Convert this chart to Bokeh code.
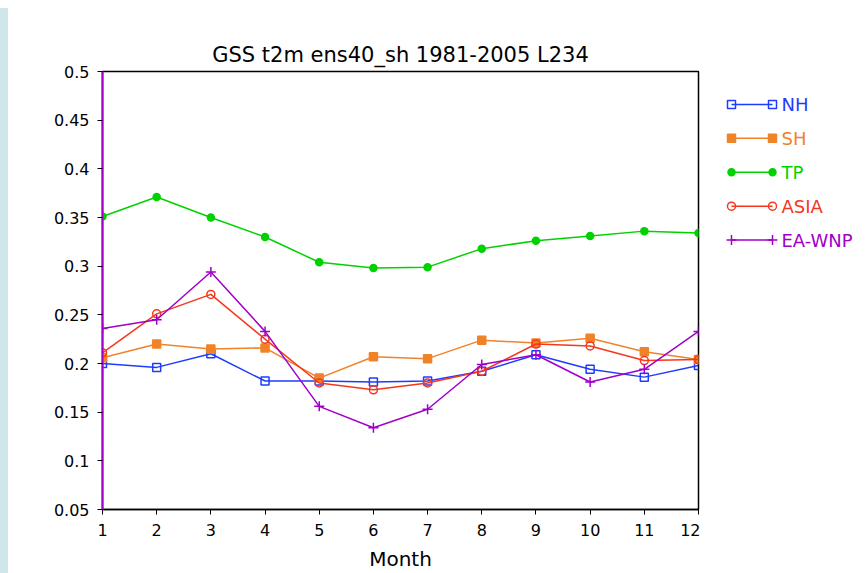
import re
from bokeh.plotting import figure
from bokeh.layouts import row
from bokeh.models import Range1d, FixedTicker, CustomJSTickFormatter, ColumnDataSource
from bokeh.core.properties import value
from bokeh.embed import file_html
from bokeh.resources import INLINE

# ---- data ----
months = [1, 2, 3, 4, 5, 6, 7, 8, 9, 10, 11, 12]
nh = [0.200, 0.196, 0.210, 0.182, 0.182, 0.181, 0.182, 0.192, 0.209, 0.194, 0.186, 0.198]
sh = [0.206, 0.220, 0.215, 0.216, 0.185, 0.207, 0.205, 0.224, 0.221, 0.226, 0.212, 0.204]
tp = [0.351, 0.371, 0.350, 0.330, 0.304, 0.298, 0.299, 0.318, 0.326, 0.331, 0.336, 0.334]
asia = [0.211, 0.251, 0.271, 0.225, 0.180, 0.173, 0.180, 0.192, 0.220, 0.218, 0.203, 0.204]
eawnp = [0.236, 0.245, 0.294, 0.233, 0.156, 0.134, 0.153, 0.199, 0.209, 0.181, 0.194, 0.233]
series_names = ["NH", "SH", "TP", "ASIA", "EA-WNP"]
y_ticks = [0.05, 0.1, 0.15, 0.2, 0.25, 0.3, 0.35, 0.4, 0.45, 0.5]
title_text = "GSS t2m ens40_sh 1981-2005 L234"
x_label = "Month"

# ---- styles ----
colors = ["#1e3cff", "#f08228", "#00d200", "#f5371e", "#a000c8"]
markers = ["square", "square", "circle", "circle", "cross"]
fills = [False, True, True, False, False]
msizes = [8, 8, 7, 8, 10]
FONT = "DejaVu Sans"
TOP, BOTTOM, H = 71, 63, 573

p = figure(width=700, height=H, output_backend="svg", toolbar_location=None,
           x_range=Range1d(1, 12), y_range=Range1d(0.05, 0.5),
           min_border_left=102, min_border_right=2, min_border_top=TOP, min_border_bottom=BOTTOM)
p.border_fill_color = None
p.background_fill_color = "white"
p.title.text = title_text
p.title.align = "center"
p.title.text_font = FONT
p.title.text_font_size = "21px"
p.title.text_font_style = "normal"
p.title.text_color = "black"
p.title.standoff = 9

p.grid.visible = False
p.outline_line_color = "black"
p.outline_line_width = 1.5

p.xaxis.ticker = FixedTicker(ticks=months)
p.xaxis.minor_tick_line_color = None
p.xaxis.major_tick_in = 0
p.xaxis.major_tick_out = 5
p.xaxis.major_label_standoff = 9
p.xaxis.major_label_text_font = FONT
p.xaxis.major_label_text_font_size = "16px"
p.xaxis.major_label_text_color = "black"
p.xaxis.axis_line_color = "black"
p.xaxis.axis_line_width = 1.5
p.xaxis.axis_label = x_label
p.xaxis.axis_label_text_font = FONT
p.xaxis.axis_label_text_font_size = "20px"
p.xaxis.axis_label_text_font_style = "normal"
p.xaxis.axis_label_text_color = "black"
p.xaxis.axis_label_standoff = 8

p.yaxis.ticker = FixedTicker(ticks=y_ticks)
p.yaxis.formatter = CustomJSTickFormatter(code="return tick.toFixed(2).replace(/0$/, '');")
p.yaxis.minor_tick_line_color = None
p.yaxis.major_tick_in = 0
p.yaxis.major_tick_out = 5
p.yaxis.major_label_standoff = 8
p.yaxis.major_label_text_font = FONT
p.yaxis.major_label_text_font_size = "16px"
p.yaxis.major_label_text_color = "black"
p.yaxis.axis_line_color = "#a000c8"
p.yaxis.axis_line_width = 2

all_series = [nh, sh, tp, asia, eawnp]
for vals, c, m, f, s in zip(all_series, colors, markers, fills, msizes):
    src = ColumnDataSource(dict(x=months, y=vals))
    p.line("x", "y", source=src, line_color=c, line_width=1.5)
    p.scatter("x", "y", source=src, marker=m, size=s, line_color=c, line_width=1.5,
              fill_color=c if f else "white", fill_alpha=1.0 if f else 0.0)

# ---- legend panel (line with a marker at each end), page-pixel coordinates ----
lg = figure(width=166, height=H, output_backend="svg", toolbar_location=None,
            x_range=Range1d(700, 866), y_range=Range1d(H - BOTTOM, TOP),
            min_border_left=0, min_border_right=0, min_border_top=TOP, min_border_bottom=BOTTOM)
lg.border_fill_color = None
lg.background_fill_color = None
lg.axis.visible = False
lg.grid.visible = False
lg.outline_line_color = None
row_y0, row_dy = 104, 34
x0, x1, xt = 731, 772, 781
for i, (name, c, m, f, s) in enumerate(zip(series_names, colors, markers, fills, msizes)):
    yy = row_y0 + i * row_dy
    lg.line([x0, x1], [yy, yy], line_color=c, line_width=1.5)
    lg.scatter([x0, x1], [yy, yy], marker=m, size=s, line_color=c, line_width=1.5,
               fill_color=c if f else "white", fill_alpha=1.0 if f else 0.0)
    lg.text([xt], [yy], text=[name], text_color=c, text_font=value(FONT),
            text_font_size="18px", text_baseline="middle", text_align="left")

layout = row(p, lg)
html = file_html(layout, INLINE)
strip_css = ("<style>html, body { background: #ffffff linear-gradient(#cfe6ea, #cfe6ea) "
             "no-repeat 0px 8px / 8px 100% !important; }</style>")
html = html.replace("</head>", strip_css + "</head>", 1)
open("out.html", "w").write(html)
